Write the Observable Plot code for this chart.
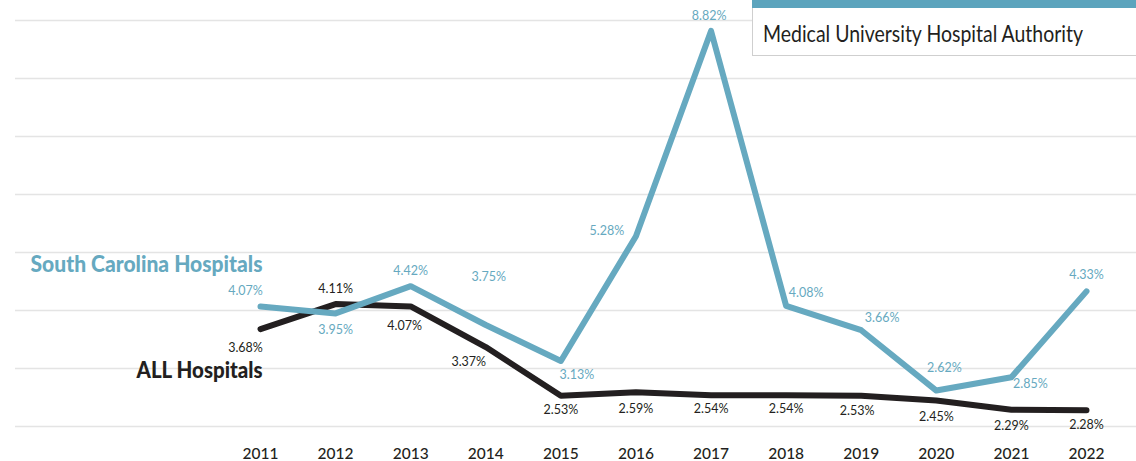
<!DOCTYPE html>
<html>
<head>
<meta charset="utf-8">
<script src="https://cdn.jsdelivr.net/npm/d3@7"></script>
<script src="https://cdn.jsdelivr.net/npm/@observablehq/plot@0.6"></script>
<style>
  html, body { margin: 0; padding: 0; background: #fff; }
  #wrap { position: relative; width: 1136px; height: 461px; overflow: hidden; font-family: Lato, "Open Sans", sans-serif; }
  #box { position: absolute; left: 752px; top: 0; width: 390px; height: 56px; background: #fff;
    border: 1px solid #cfcfcf; box-sizing: border-box; }
  #box .bar { height: 8px; background: #5ca4bd; margin: -1px -1px 0 -1px; }
  #box .txt { display: inline-block; margin-left: 10px; margin-top: 12px; font-size: 23px; color: #231f20;
    line-height: 26px; white-space: nowrap; transform-origin: 0 50%; }
</style>
</head>
<body>
<div id="wrap"></div>
<script>
// ---- data ----
const years = [2011, 2012, 2013, 2014, 2015, 2016, 2017, 2018, 2019, 2020, 2021, 2022];
const scValues = [4.07, 3.95, 4.42, 3.75, 3.13, 5.28, 8.82, 4.08, 3.66, 2.62, 2.85, 4.33];
const allValues = [3.68, 4.11, 4.07, 3.37, 2.53, 2.59, 2.54, 2.54, 2.53, 2.45, 2.29, 2.28];
const gridTicks = [2, 3, 4, 5, 6, 7, 8, 9];
const seriesNames = ["South Carolina Hospitals", "ALL Hospitals"];
const boxTitle = "Medical University Hospital Authority";

// ---- layout (label offsets in px, relative to each point) ----
const scDx = [-15, 0, 0, 3, 16, -29, -2, 20, 21, 8, 19, 0];
const scDy = [-15, 17, -15, -48, 14, -5, -15, -13, -12, -23, 7, -16];
const allDx = [-15, 0, -6, -17, 0, 0, 0, 0, -4, 0, 0, 0];
const allDy = [19, -15, 20, 15, 14, 17, 14, 14, 15, 17, 16, 15];
const nameWidths = [232, 126];
const boxTextWidth = 320;

const teal = "#66a9c0";
const dark = "#231f20";
const fmt = v => d3.format(".2f")(v) + "%";

const sc = years.map((y, i) => ({year: y, value: scValues[i], dx: scDx[i], dy: scDy[i]}));
const all = years.map((y, i) => ({year: y, value: allValues[i], dx: allDx[i], dy: allDy[i]}));

const fontFam = 'Lato, "Open Sans", sans-serif';

const labelMarks = (data, color) => data.map(d => Plot.text([d], {
  x: "year", y: "value", text: d => fmt(d.value), dx: d.dx, dy: d.dy,
  fill: color, fontSize: 12.5, fontFamily: fontFam
}));

const chart = Plot.plot({
  width: 1136,
  height: 461,
  marginLeft: 15,
  marginRight: 0,
  marginTop: 20,
  marginBottom: 35,
  style: {fontFamily: fontFam, background: "#fff", overflow: "visible"},
  x: {domain: [2007.737, 2022.666], label: null},
  y: {domain: [2, 9], axis: null},
  marks: [
    Plot.gridY(gridTicks, {stroke: "#e4e4e4", strokeOpacity: 1, strokeWidth: 1.5}),
    Plot.axisX({ticks: years, tickFormat: d => String(d), tickSize: 0, tickPadding: 21, fontSize: 15.5, fontWeight: 500, fill: dark, label: null}),
    Plot.line(all, {x: "year", y: "value", stroke: dark, strokeWidth: 6, strokeLinejoin: "round", strokeLinecap: "round"}),
    Plot.line(sc, {x: "year", y: "value", stroke: teal, strokeWidth: 6, strokeLinejoin: "round", strokeLinecap: "round"}),
    ...labelMarks(sc, teal),
    ...labelMarks(all, dark),
    Plot.text([sc[0]], {x: "year", y: "value", text: () => seriesNames[0], dx: 2, dy: -41,
      textAnchor: "end", fill: teal, fontSize: 22, fontWeight: 900, fontFamily: fontFam}),
    Plot.text([all[0]], {x: "year", y: "value", text: () => seriesNames[1], dx: 2, dy: 42,
      textAnchor: "end", fill: dark, fontSize: 22, fontWeight: 900, fontFamily: fontFam})
  ]
});

const wrap = document.getElementById("wrap");
wrap.appendChild(chart);

// condense the large series names to the reference's narrow face
d3.select(chart).selectAll("text").each(function() {
  const i = seriesNames.indexOf(this.textContent);
  if (i >= 0) {
    this.setAttribute("textLength", nameWidths[i]);
    this.setAttribute("lengthAdjust", "spacingAndGlyphs");
  }
});

const box = document.createElement("div");
box.id = "box";
box.innerHTML = '<div class="bar"></div><div class="txt"></div>';
const txt = box.querySelector(".txt");
txt.textContent = boxTitle;
wrap.appendChild(box);
const w = txt.getBoundingClientRect().width;
txt.style.transform = `scaleX(${boxTextWidth / w})`;
</script>
</body>
</html>
